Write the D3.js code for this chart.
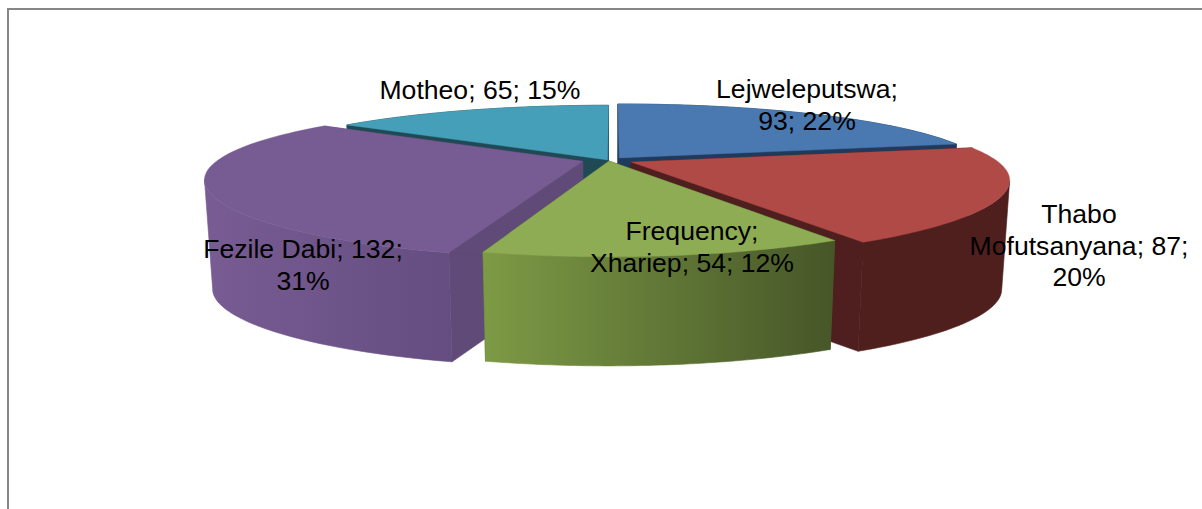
<!DOCTYPE html>
<html>
<head>
<meta charset="utf-8">
<script src="https://cdn.jsdelivr.net/npm/d3@7/dist/d3.min.js"></script>
<style>
  html, body { margin: 0; padding: 0; background: #fff; }
  svg { display: block; }
  text { font-family: "Liberation Sans", Arial, sans-serif; fill: #000; }
</style>
</head>
<body>
<svg id="chart" width="1202" height="509"></svg>
<script>
// Districts and the figures printed beside them
const districts = ["Lejweleputswa", "Thabo Mofutsanyana", "Xhariep", "Fezile Dabi", "Motheo"];
const frequency = [93, 87, 54, 132, 65];
const percents = [22, 20, 12, 31, 15];
const seriesName = "Frequency";

// Slice colours: top face, cut face, outer wall gradient ends
const topColors = ["#4a78b0", "#b04a47", "#8eac53", "#775b93", "#469fb8"];
const cutColors = ["#1f3a5c", "#4f1f1f", "#4a5c2a", "#5f4a78", "#1f4a55"];
const wallFrom = ["#1f3a5c", "#4f1f1e", "#7d9a45", "#785c93", "#1f4a55"];
const wallTo = ["#1f3a5c", "#4f1f1e", "#465628", "#644d80", "#1f4a55"];

// Perspective projection of the pie's unit disc onto the page
const view = { cx: 612, cy: 161, rx: 366, ry: 70, tiltX: 0.23, tiltY: 0.27, depth: 109, shrink: 0.98 };
const project = ([u, v]) => [
  view.cx + view.rx * u / (1 + view.tiltX * v),
  view.cy - view.ry * v / (1 + view.tiltY * v)
];
const extrude = ([x, y]) => [view.cx + (x - view.cx) * view.shrink, y + view.depth];

// How far each slice is pulled out of the pie, in disc units
const explode = [[0.02, 0.045], [0.052, -0.015], [-0.008, 0.0], [-0.08, -0.005], [-0.012, 0.015]];

const arcs = d3.pie().sort(null).value(d => d)(frequency);
const svg = d3.select("#chart");
const defs = svg.append("defs");
const pathOf = d3.line();

// Chart frame: only the top and left edges fall on the page
svg.append("path")
  .attr("d", "M8,509V9H1202")
  .attr("fill", "none")
  .attr("stroke", "#868686")
  .attr("stroke-width", 2);

// Back slices first so the nearer ones overlap them
const paintOrder = [4, 0, 3, 1, 2];

paintOrder.forEach(i => {
  const a = arcs[i];
  const [eu, ev] = explode[i];
  const steps = d3.range(0, 61).map(k => a.startAngle + (a.endAngle - a.startAngle) * k / 60);
  const rim = steps.map(t => project([eu + Math.sin(t), ev + Math.cos(t)]));
  const apex = project([eu, ev]);
  const rimLow = rim.map(extrude);
  const apexLow = extrude(apex);

  const grad = defs.append("linearGradient").attr("id", "wall" + i)
    .attr("x1", 0).attr("x2", 1).attr("y1", 0).attr("y2", 0);
  grad.append("stop").attr("offset", 0).attr("stop-color", wallFrom[i]);
  grad.append("stop").attr("offset", 1).attr("stop-color", wallTo[i]);

  const g = svg.append("g").attr("class", "slice");
  // The two cut faces running from the centre to the rim
  [rim[0], rim[rim.length - 1]].forEach((p, j) => {
    const low = j === 0 ? rimLow[0] : rimLow[rimLow.length - 1];
    g.append("path")
      .attr("d", pathOf([apex, p, low, apexLow]) + "Z")
      .attr("fill", cutColors[i])
      .attr("stroke", cutColors[i])
      .attr("stroke-width", 0.6);
  });
  // Outer curved wall, limited to the stretch of rim between its left and right extremes
  const iMin = d3.minIndex(rim, p => p[0]);
  const iMax = d3.maxIndex(rim, p => p[0]);
  const lo = Math.min(iMin, iMax);
  const hi = Math.max(iMin, iMax);
  const wallTop = rim.slice(lo, hi + 1);
  const wallLow = rimLow.slice(lo, hi + 1).reverse();
  g.append("path")
    .attr("d", pathOf(wallTop.concat(wallLow)) + "Z")
    .attr("fill", `url(#wall${i})`)
    .attr("stroke", `url(#wall${i})`)
    .attr("stroke-width", 0.6);
  // Top face
  g.append("path")
    .attr("d", pathOf([apex].concat(rim)) + "Z")
    .attr("fill", topColors[i])
    .attr("stroke", topColors[i])
    .attr("stroke-width", 0.4);
});

// Data labels, wrapped where the line breaks fall
const labelLines = [
  [`${districts[0]};`, `${frequency[0]}; ${percents[0]}%`],
  ["Thabo", `Mofutsanyana; ${frequency[1]};`, `${percents[1]}%`],
  [`${seriesName};`, `${districts[2]}; ${frequency[2]}; ${percents[2]}%`],
  [`${districts[3]}; ${frequency[3]};`, `${percents[3]}%`],
  [`${districts[4]}; ${frequency[4]}; ${percents[4]}%`]
];
const labelAnchor = [[807, 98], [1079, 223], [692, 240], [303, 258], [480, 99]];
const lineStep = 31.5;

labelLines.forEach((lines, i) => {
  const t = svg.append("text")
    .attr("text-anchor", "middle")
    .attr("font-size", 26.6);
  lines.forEach((s, j) => {
    t.append("tspan")
      .attr("x", labelAnchor[i][0])
      .attr("y", labelAnchor[i][1] + j * lineStep)
      .text(s);
  });
});
</script>
</body>
</html>
